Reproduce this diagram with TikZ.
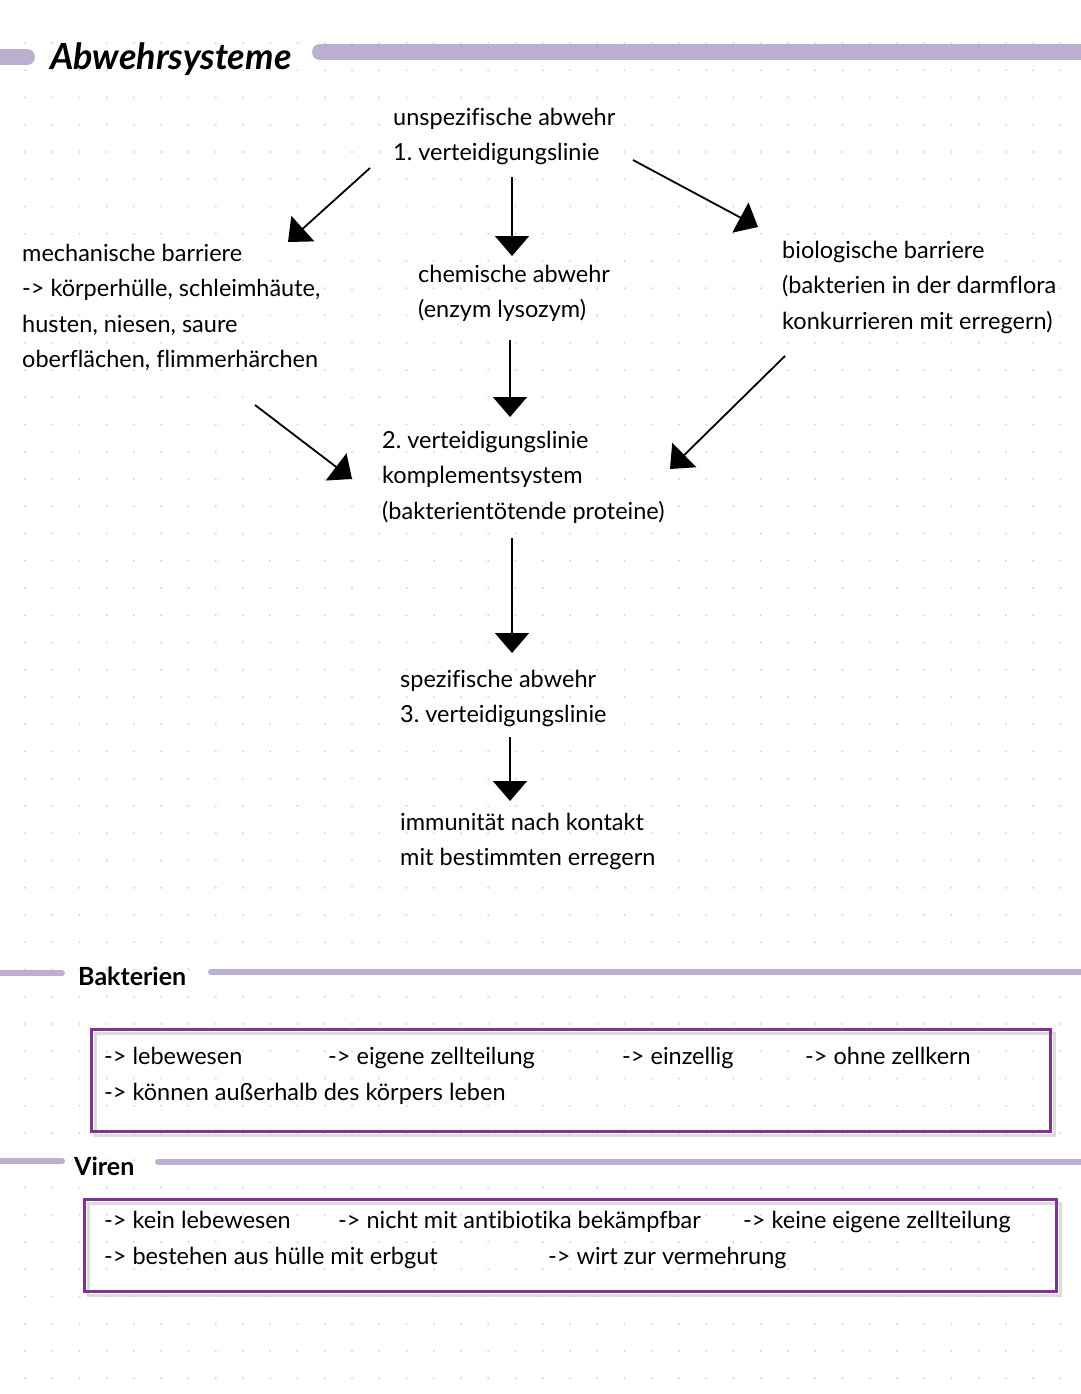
\documentclass[tikz,border=0pt]{standalone}
\usepackage{fontspec}
\setmainfont{Lato}[Ligatures=NoCommon]
\frenchspacing
\usetikzlibrary{arrows.meta,positioning}
\definecolor{lavender}{HTML}{BDAFD0}
\definecolor{boxpurple}{HTML}{7F3590}
\definecolor{griddot}{HTML}{D4D4D4}

\begin{document}
\begin{tikzpicture}[x=1pt,y=-1pt,>={Triangle[length=20pt,width=34pt]},
		every node/.style={inner sep=0pt},
		txt/.style={anchor=north west,align=left,font=\fontsize{23.5}{35.5}\selectfont},
		item/.style={anchor=base west,font=\fontsize{23.5}{27}\selectfont},
		head/.style={anchor=base west,font=\fontsize{25}{29}\selectfont\bfseries},
		bar/.style={lavender,line width=16pt,line cap=round},
		rulebar/.style={lavender,line width=6pt,line cap=round},
		arr/.style={->,line width=1.8pt},
		frame/.style={boxpurple,line width=3pt},
		shade/.style={black!14,line width=3pt}]

		\useasboundingbox (0,0) rectangle (1080,1394);

		% dotted paper
		\foreach \i in {0,...,38}
			\foreach \j in {0,...,49}
				\fill[griddot] (25+27.25*\i,43+27.25*\j) circle (1.2pt);

		% title
		\draw[bar] (-10,57) -- (27,57);
		\draw[bar] (320,52) -- (1090,52);
		\node[anchor=base west,font=\fontsize{36}{42}\selectfont\bfseries\itshape] (title) at (50,70) {Abwehrsysteme};

		% defence lines
		\node[txt] (unspez) at (393,107.5) {unspezifische abwehr\\1. verteidigungslinie};
		\node[txt] (mech) at (22,243.5) {mechanische barriere\\-> körperhülle, schleimhäute,\\husten, niesen, saure\\oberflächen, flimmerhärchen};
		\node[txt] (chem) at (418,264.5) {chemische abwehr\\(enzym lysozym)};
		\node[txt] (bio) at (782,240.5) {biologische barriere\\(bakterien in der darmflora\\konkurrieren mit erregern)};
		\node[txt] (zweite) at (382,430.5) {2. verteidigungslinie\\komplementsystem\\(bakterientötende proteine)};
		\node[txt] (spez) at (400,669.5) {spezifische abwehr\\3. verteidigungslinie};
		\node[txt] (immun) at (400,812.5) {immunität nach kontakt\\mit bestimmten erregern};

		\coordinate (a1s) at (370,168);  \coordinate (a1e) at (288,242);
		\coordinate (a2s) at (512,177);  \coordinate (a2e) at (512,256);
		\coordinate (a3s) at (633,160);  \coordinate (a3e) at (758,227);
		\coordinate (a4s) at (510,340);  \coordinate (a4e) at (510,417);
		\coordinate (a5s) at (255,405);  \coordinate (a5e) at (352,479);
		\coordinate (a6s) at (785,356);  \coordinate (a6e) at (670,469);
		\coordinate (a7s) at (512,538);  \coordinate (a7e) at (512,653);
		\coordinate (a8s) at (510,737);  \coordinate (a8e) at (510,801);

		\path[arr]
		(a1s) edge (a1e)
		(a2s) edge (a2e)
		(a3s) edge (a3e)
		(a4s) edge (a4e)
		(a5s) edge (a5e)
		(a6s) edge (a6e)
		(a7s) edge (a7e)
		(a8s) edge (a8e);

		% bakterien
		\draw[rulebar] (-10,973) -- (62,973);
		\draw[rulebar] (211,972) -- (1090,972);
		\node[head] (bakt) at (78,985) {Bakterien};
		\draw[shade] (95,1033) rectangle (1054,1135);
		\draw[frame] (91,1029) rectangle (1050,1131);
		\node[item] (b1) at (104,1064) {-> lebewesen};
		\node[item] (b2) at (328,1064) {-> eigene zellteilung};
		\node[item] (b3) at (622,1064) {-> einzellig};
		\node[item] (b4) at (805,1064) {-> ohne zellkern};
		\node[item] (b5) at (104,1100) {-> können außerhalb des körpers leben};

		% viren
		\draw[rulebar] (-10,1161) -- (62,1161);
		\draw[rulebar] (158,1162) -- (1090,1162);
		\node[head] (vir) at (74,1175) {Viren};
		\draw[shade] (88,1203) rectangle (1060,1295);
		\draw[frame] (84,1199) rectangle (1056,1291);
		\node[item] (v1) at (104,1228) {-> kein lebewesen};
		\node[item] (v2) at (338,1228) {-> nicht mit antibiotika bekämpfbar};
		\node[item] (v3) at (743,1228) {-> keine eigene zellteilung};
		\node[item] (v4) at (104,1264) {-> bestehen aus hülle mit erbgut};
		\node[item] (v5) at (548,1264) {-> wirt zur vermehrung};
	\end{tikzpicture}
\end{document}
